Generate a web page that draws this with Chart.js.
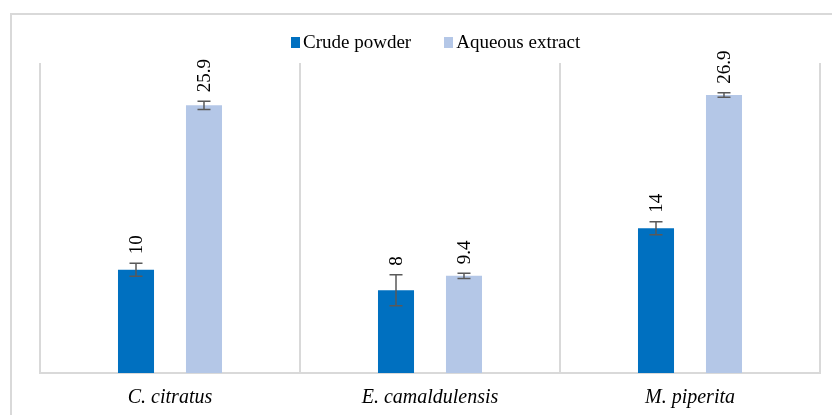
<!DOCTYPE html>
<html>
<head>
<meta charset="utf-8">
<script src="https://cdn.jsdelivr.net/npm/chart.js@4.4.1/dist/chart.umd.min.js"></script>
<style>
  html, body { margin: 0; padding: 0; background: #fff; overflow: hidden; width: 832px; height: 415px; }
  #frame {
    position: absolute; left: 10px; top: 13px;
    width: 846px; height: 420px;
    border: 2px solid #d9d9d9;
  }
  #chart-box { position: absolute; left: 0; top: 0; width: 846px; height: 408px; }
  #legend {
    position: absolute; left: 279px; top: 17px;
    display: flex; align-items: center;
    font-family: 'Times New Roman', 'Liberation Serif', serif;
    font-size: 19px; line-height: 20px; color: #000;
  }
  #legend .item { display: flex; align-items: center; margin-right: 33px; }
  #legend .box { width: 9px; height: 11px; margin-right: 3px; }
</style>
</head>
<body>
<div id="frame">
  <div id="chart-box"><canvas id="myChart"></canvas></div>
  <div id="legend"></div>
</div>
<script>
const categories = ['C. citratus', 'E. camaldulensis', 'M. piperita'];
const seriesNames = ['Crude powder', 'Aqueous extract'];
const seriesColors = ['#0070C0', '#B4C7E7'];
const crudePowder = [10, 8, 14];
const crudeError = [0.63, 1.5, 0.63];
const aqueousExtract = [25.9, 9.4, 26.9];
const aqueousError = [0.4, 0.25, 0.22];
const valueLabels = [['10', '8', '14'], ['25.9', '9.4', '26.9']];

const serif = "'Times New Roman', 'Liberation Serif', serif";

// error bars + rotated value labels above them
const barExtras = {
  id: 'barExtras',
  afterDatasetsDraw(chart) {
    const ctx = chart.ctx;
    const yScale = chart.scales.y;
    chart.data.datasets.forEach((ds, di) => {
      const meta = chart.getDatasetMeta(di);
      meta.data.forEach((bar, i) => {
        const v = ds.data[i];
        const err = ds.errors[i];
        const x = bar.x;
        const yTop = yScale.getPixelForValue(v + err);
        const yBot = yScale.getPixelForValue(v - err);
        ctx.save();
        ctx.strokeStyle = '#595959';
        ctx.lineWidth = 1.5;
        ctx.beginPath();
        ctx.moveTo(x, yTop); ctx.lineTo(x, yBot);
        ctx.moveTo(x - 6.5, yTop); ctx.lineTo(x + 6.5, yTop);
        ctx.moveTo(x - 6.5, yBot); ctx.lineTo(x + 6.5, yBot);
        ctx.stroke();

        ctx.translate(x, yTop - 9);
        ctx.rotate(-Math.PI / 2);
        ctx.fillStyle = '#000';
        ctx.font = '19px ' + serif;
        ctx.textAlign = 'left';
        ctx.textBaseline = 'middle';
        ctx.fillText(valueLabels[di][i], 0, 1);
        ctx.restore();
      });
    });
  }
};

// simple html legend
const legendEl = document.getElementById('legend');
seriesNames.forEach((name, i) => {
  const item = document.createElement('div');
  item.className = 'item';
  item.innerHTML = `<span class="box" style="background:${seriesColors[i]}"></span><span>${name}</span>`;
  legendEl.appendChild(item);
});

const ctx = document.getElementById('myChart').getContext('2d');
new Chart(ctx, {
  type: 'bar',
  data: {
    labels: categories,
    datasets: [
      {
        label: seriesNames[0],
        data: crudePowder,
        errors: crudeError,
        backgroundColor: seriesColors[0],
        categoryPercentage: 0.523,
        barPercentage: 0.53
      },
      {
        label: seriesNames[1],
        data: aqueousExtract,
        errors: aqueousError,
        backgroundColor: seriesColors[1],
        categoryPercentage: 0.523,
        barPercentage: 0.53
      }
    ]
  },
  options: {
    responsive: true,
    maintainAspectRatio: false,
    animation: false,
    layout: { padding: { left: 28, right: 38, top: 48, bottom: 0 } },
    plugins: {
      legend: { display: false },
      tooltip: { enabled: false }
    },
    scales: {
      x: {
        offset: true,
        grid: { display: true, offset: true, color: '#d9d9d9', lineWidth: 2, drawTicks: false },
        border: { display: true, color: '#d9d9d9', width: 2 },
        ticks: {
          padding: 13,
          color: '#000',
          font: { family: serif, size: 20, style: 'italic' }
        }
      },
      y: {
        display: false,
        min: 0,
        max: 30
      }
    }
  },
  plugins: [barExtras]
});
</script>
</body>
</html>
